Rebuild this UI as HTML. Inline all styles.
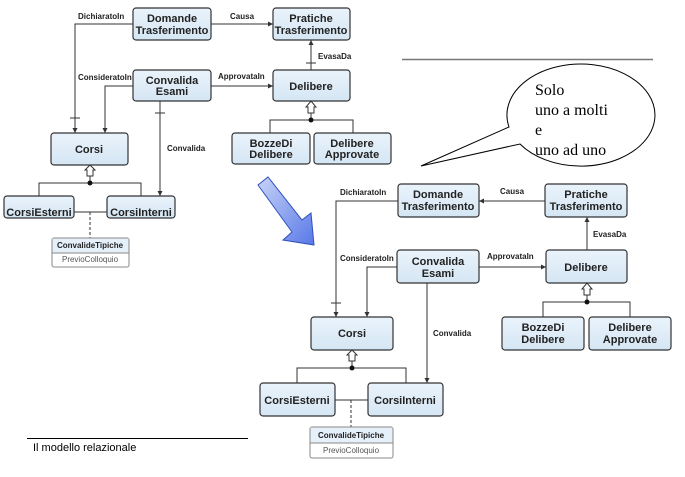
<!DOCTYPE html>
<html><head><meta charset="utf-8"><style>
body{margin:0;background:#fff;width:685px;height:472px;overflow:hidden}
svg text{font-family:"Liberation Sans",sans-serif;font-weight:bold;fill:#222}
</style></head><body>
<svg width="685" height="472" viewBox="0 0 685 472" xmlns="http://www.w3.org/2000/svg">
<defs>
<linearGradient id="bg" x1="0" y1="0" x2="0" y2="1"><stop offset="0" stop-color="#eaf3fb"/><stop offset="1" stop-color="#d5e6f4"/></linearGradient>
<linearGradient id="ar" x1="0" y1="0" x2="1" y2="1"><stop offset="0" stop-color="#c8d4f6"/><stop offset="1" stop-color="#5878e8"/></linearGradient>
<marker id="a" markerWidth="6" markerHeight="6" refX="5" refY="3" orient="auto"><path d="M0,0.5 L5,3 L0,5.5z" fill="#333"/></marker>
</defs>
<g stroke="#333" stroke-width="1" fill="none">
<path d="M133,24 H75 V133" marker-end="url(#a)"/><path d="M133,86 H105 V133" marker-end="url(#a)"/>
<path d="M211,24 H273" marker-end="url(#a)" marker-start="url(#a)"/><path d="M311,70 V40" marker-end="url(#a)"/><path d="M211,86 H273" marker-end="url(#a)"/>
<path d="M160,101 V196" marker-end="url(#a)"/>
<path d="M90,165 V183 M39,196 V183 H141 V196"/>
<path d="M311,101 V120 M270,133 V120 H353 V133"/>
<path d="M74,212 H107"/><path d="M90,212 V238" stroke-dasharray="3,2"/>
<path d="M70,118 H80 M155,113 H165 M306,63 H316"/>
<path d="M398,201 H336 V317" marker-end="url(#a)"/><path d="M397,267 H367 V317" marker-end="url(#a)"/>
<path d="M545,201 H479" marker-end="url(#a)"/><path d="M587,250 V217" marker-end="url(#a)"/>
<path d="M479,267 H546" marker-end="url(#a)"/><path d="M427,283 V383" marker-end="url(#a)"/>
<path d="M352,350 V368 M297,383 V368 H406 V383"/>
<path d="M587,283 V302 M543,317 V302 H630 V317"/>
<path d="M335,400 H368"/><path d="M351,400 V427" stroke-dasharray="3,2"/>
<path d="M331,303 H341"/>
</g>
<g fill="#111"><circle cx="90" cy="183" r="2.5"/><circle cx="311" cy="120" r="2.5"/><circle cx="352" cy="368" r="2.5"/><circle cx="587" cy="302" r="2.5"/></g>
<g fill="#fff" stroke="#333"><path d="M87,176 V170 H85 L90,165 L95,170 H93 V176z"/><path d="M308,113 V107 H306 L311,101 L316,107 H314 V113z"/><path d="M349,361 V355 H347 L352,350 L357,355 H355 V361z"/><path d="M584,295 V289 H582 L587,283 L592,289 H590 V295z"/></g>
<g fill="url(#bg)" stroke="#333" stroke-width="1.2">
<rect x="133" y="8" width="78" height="32" rx="3"/><rect x="273" y="8" width="77" height="32" rx="3"/>
<rect x="133" y="70" width="78" height="31" rx="3"/><rect x="273" y="70" width="77" height="31" rx="3"/>
<rect x="51" y="133" width="77" height="32" rx="3"/><rect x="232" y="133" width="78" height="31" rx="3"/><rect x="314" y="133" width="77" height="31" rx="3"/>
<rect x="4" y="196" width="70" height="22" rx="3"/><rect x="107" y="196" width="68" height="22" rx="3"/>
<rect x="398" y="184" width="81" height="33" rx="3"/><rect x="545" y="184" width="82" height="33" rx="3"/>
<rect x="397" y="250" width="82" height="33" rx="3"/><rect x="546" y="250" width="81" height="33" rx="3"/>
<rect x="311" y="317" width="82" height="33" rx="3"/><rect x="502" y="317" width="82" height="33" rx="3"/><rect x="589" y="317" width="82" height="33" rx="3"/>
<rect x="260" y="383" width="75" height="33" rx="3"/><rect x="368" y="383" width="75" height="33" rx="3"/>
</g>
<g stroke="#888" fill="#fff"><rect x="52" y="238" width="77" height="29" rx="2"/><path d="M52,253 H129" /><rect x="310" y="427" width="83" height="31" rx="2"/><path d="M310,443 H393"/></g>
<rect x="52.5" y="238.5" width="76" height="14" fill="#e6f0fa"/><rect x="310.5" y="427.5" width="82" height="15" fill="#e6f0fa"/>
<g font-size="11" text-anchor="middle">
<text x="172" y="22">Domande</text><text x="172" y="34">Trasferimento</text>
<text x="311" y="22">Pratiche</text><text x="311" y="34">Trasferimento</text>
<text x="172" y="84">Convalida</text><text x="172" y="95">Esami</text>
<text x="311" y="90">Delibere</text><text x="89" y="153">Corsi</text>
<text x="271" y="147">BozzeDi</text><text x="271" y="158">Delibere</text>
<text x="352" y="147">Delibere</text><text x="352" y="158">Approvate</text>
<text x="39" y="216">CorsiEsterni</text><text x="141" y="216">CorsiInterni</text>
<text x="438" y="198">Domande</text><text x="438" y="210">Trasferimento</text>
<text x="586" y="198">Pratiche</text><text x="586" y="210">Trasferimento</text>
<text x="438" y="265">Convalida</text><text x="438" y="277">Esami</text>
<text x="586" y="271">Delibere</text><text x="352" y="337">Corsi</text>
<text x="543" y="331">BozzeDi</text><text x="543" y="343">Delibere</text>
<text x="630" y="331">Delibere</text><text x="630" y="343">Approvate</text>
<text x="297" y="404">CorsiEsterni</text><text x="405" y="404">CorsiInterni</text>
</g>
<g font-size="8">
<text x="78" y="19">DichiaratoIn</text><text x="230" y="19">Causa</text><text x="318" y="59">EvasaDa</text>
<text x="78" y="80">ConsideratoIn</text><text x="218" y="79">ApprovataIn</text><text x="167" y="151">Convalida</text>
<text x="340" y="195">DichiaratoIn</text><text x="500" y="194">Causa</text><text x="593" y="237">EvasaDa</text>
<text x="340" y="261">ConsideratoIn</text><text x="487" y="259">ApprovataIn</text><text x="433" y="336">Convalida</text>
<text x="90" y="248" text-anchor="middle">ConvalideTipiche</text><text x="351" y="438" text-anchor="middle">ConvalideTipiche</text>
</g>
<g font-size="8" text-anchor="middle"><text x="90" y="262" style="font-weight:normal;fill:#555">PrevioColloquio</text><text x="351" y="453" style="font-weight:normal;fill:#555">PrevioColloquio</text></g>
<path d="M258,185 L268,177 L302,220 L311,213 L314,245 L283,240 L292,232z" fill="url(#ar)" stroke="#3050c0" stroke-width="1"/>
<line x1="402" y1="59.5" x2="653" y2="59.5" stroke="#777" stroke-width="1.5"/>
<path d="M509,127 A74,51 0 1 1 520,144 L421,166z" fill="#fff" stroke="#000" stroke-width="1"/>
<g font-size="16">
<text x="535" y="95" style="font-family:'Liberation Serif',serif;font-weight:normal;fill:#000">Solo</text>
<text x="535" y="115" style="font-family:'Liberation Serif',serif;font-weight:normal;fill:#000">uno a molti</text>
<text x="535" y="135" style="font-family:'Liberation Serif',serif;font-weight:normal;fill:#000">e</text>
<text x="535" y="155" style="font-family:'Liberation Serif',serif;font-weight:normal;fill:#000">uno ad uno</text>
</g>
<line x1="27" y1="438.5" x2="248" y2="438.5" stroke="#000"/>
<text x="33" y="451" font-size="11" style="font-weight:normal;fill:#000">Il modello relazionale</text>
</svg>
</body></html>
